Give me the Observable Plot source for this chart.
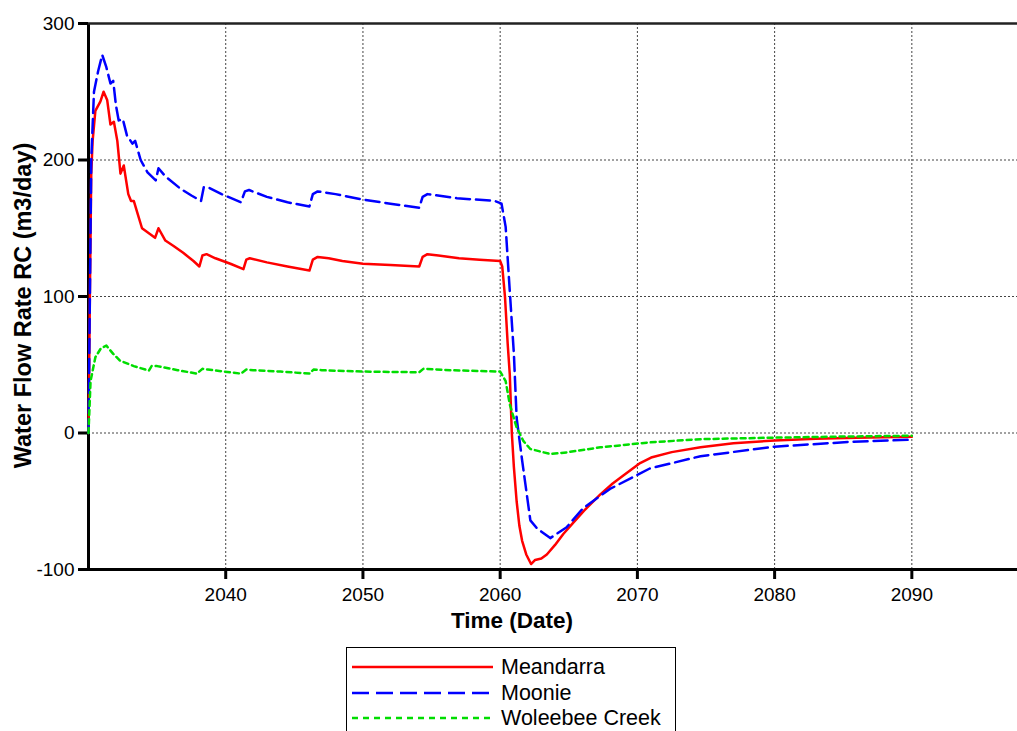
<!DOCTYPE html>
<html>
<head>
<meta charset="utf-8">
<script src="https://cdn.jsdelivr.net/npm/d3@7"></script>
<script src="https://cdn.jsdelivr.net/npm/@observablehq/plot@0.6"></script>
<style>
  html, body { margin: 0; padding: 0; background: #fff; overflow: hidden; }
  body { font-family: "Liberation Sans", Arial, sans-serif; width: 1017px; height: 731px; position: relative; }
  #chart svg { display: block; }
  #legend { position: absolute; left: 346px; top: 647px; width: 330px; height: 95px; border: 1.5px solid #000; box-sizing: border-box; background: #fff; }
  .lg-row { position: absolute; left: 5px; height: 24px; display: flex; align-items: center; }
  .lg-row span { font-size: 21.5px; color: #000; margin-left: 8px; line-height: 24px; }
</style>
</head>
<body>
<div id="chart"></div>
<div id="legend"></div>
<script>
// ---- data ----
const seriesNames = ["Meandarra", "Moonie", "Woleebee Creek"];
const seriesColors = ["#ff0000", "#0000ff", "#00dd00"];
const seriesDash = [null, "14,6", "5,4"];

const xTicks = [2040, 2050, 2060, 2070, 2080, 2090];
const yTicks = [-100, 0, 100, 200, 300];
const yGridValues = [0, 100, 200];
const xDomain = [2030, 2097.7];
const yDomain = [-100, 300];

const meandarraYear = [2030.0, 2030.1, 2030.2, 2030.3, 2030.5, 2030.87, 2031.1, 2031.36, 2031.6, 2031.85, 2032.1, 2032.33, 2032.57, 2032.9, 2033.1, 2033.3, 2033.6, 2033.9, 2034.3, 2034.85, 2035.1, 2035.6, 2036.2, 2036.9, 2037.65, 2038.08, 2038.3, 2038.6, 2039.25, 2040.34, 2041.29, 2041.5, 2041.75, 2043.0, 2044.5, 2046.1, 2046.35, 2046.7, 2047.5, 2048.5, 2050.0, 2052.0, 2054.1, 2054.35, 2054.7, 2055.5, 2057.0, 2058.5, 2060.0, 2060.15, 2060.35, 2060.55, 2060.7, 2060.85, 2061.0, 2061.2, 2061.4, 2061.6, 2061.9, 2062.25, 2062.55, 2063.0, 2063.4, 2064.0, 2064.6, 2065.3, 2066.1, 2067.3, 2068.2, 2069.0, 2070.2, 2071.0, 2072.5, 2074.6, 2077.0, 2080.0, 2083.0, 2086.0, 2090.0];
const meandarraValue = [0, 100, 190, 214, 236, 243, 250, 244, 226, 228, 214, 190, 196, 175, 170, 170, 160, 150, 147, 143, 150, 141, 137, 132, 126, 122, 130, 131, 128, 124, 120, 127, 128, 125, 122, 119, 127, 129, 128, 126, 124, 123, 122, 129, 131, 130, 128, 127, 126, 122, 100, 65, 43, 0, -25, -50, -68, -79, -89, -96, -93, -92, -89, -82, -74, -66, -57, -45, -37, -31, -22, -18, -14, -10.5, -7.5, -5.5, -4.2, -3.4, -2.7];

const moonieYear = [2030.0, 2030.1, 2030.2, 2030.4, 2030.7, 2031.0, 2031.3, 2031.6, 2031.8, 2032.0, 2032.2, 2032.5, 2032.8, 2033.2, 2033.4, 2033.8, 2034.3, 2034.9, 2035.1, 2035.6, 2036.7, 2037.5, 2038.2, 2038.4, 2038.7, 2039.7, 2041.1, 2041.4, 2041.7, 2043.0, 2044.5, 2046.1, 2046.35, 2046.7, 2048.0, 2050.0, 2052.0, 2054.1, 2054.35, 2054.7, 2056.85, 2059.6, 2060.1, 2060.4, 2060.7, 2061.0, 2061.2, 2061.6, 2062.2, 2062.7, 2063.65, 2064.85, 2066.05, 2068.0, 2070.9, 2074.6, 2080.0, 2085.5, 2090.0];
const moonieValue = [0, 100, 200, 250, 265, 277, 268, 256, 258, 240, 229, 230, 218, 212, 214, 200, 191, 185, 194, 188, 179, 174, 170, 180, 180, 175, 169, 177, 178, 173, 169, 166, 175, 177, 175, 171, 168, 165, 173, 175, 172, 170, 168, 151, 104, 58, 11, -20, -64, -70, -77, -69, -55, -41, -26, -17, -10, -6.5, -4.9];

const woleebeeYear = [2030.0, 2030.15, 2030.5, 2030.9, 2031.3, 2031.8, 2032.3, 2033.3, 2034.4, 2034.6, 2035.0, 2036.5, 2037.9, 2038.3, 2038.7, 2041.1, 2041.5, 2042.0, 2044.0, 2046.1, 2046.4, 2047.0, 2050.0, 2054.1, 2054.4, 2056.4, 2060.0, 2060.4, 2060.7, 2061.2, 2061.7, 2062.2, 2063.65, 2064.85, 2067.3, 2070.9, 2074.6, 2080.0, 2085.0, 2090.0];
const woleebeeValue = [0, 38, 55.5, 62, 64, 58, 53, 49, 45.7, 49, 49, 46, 43.5, 47, 46.5, 43.5, 46.5, 46, 45, 43.5, 46.5, 46, 45, 44.5, 47, 46, 45, 38, 21, 4, -6, -11.7, -15.4, -14.2, -10.5, -6.9, -4.5, -3.4, -2.6, -2];

// ---- build tables ----
function rows(name, years, values) {
  return years.map((t, i) => ({series: name, t, v: values[i]}));
}
const tables = [
  rows(seriesNames[0], meandarraYear, meandarraValue),
  rows(seriesNames[1], moonieYear, moonieValue),
  rows(seriesNames[2], woleebeeYear, woleebeeValue)
];

const gridStyle = {stroke: "#444", strokeOpacity: 1, strokeWidth: 1, strokeDasharray: "2,2"};

const chart = Plot.plot({
  width: 1017,
  height: 645,
  marginLeft: 88,
  marginRight: 0,
  marginTop: 23,
  marginBottom: 76,
  style: {fontFamily: "'Liberation Sans', Arial, sans-serif", fontSize: "19px", color: "#000", background: "#fff"},
  x: {domain: xDomain},
  y: {domain: yDomain},
  marks: [
    Plot.gridX(xTicks, gridStyle),
    Plot.gridY(yGridValues, gridStyle),
    Plot.axisX({ticks: xTicks, tickFormat: d => String(d), tickSize: 10, tickPadding: 8, strokeWidth: 3, label: null, fontSize: 19}),
    Plot.axisY({ticks: yTicks, tickFormat: d => String(d), tickSize: 10, tickPadding: 4, strokeWidth: 3, label: null, fontSize: 19}),
    Plot.ruleX([xDomain[0]], {stroke: "#000", strokeWidth: 3}),
    Plot.ruleY([yDomain[0]], {stroke: "#000", strokeWidth: 3}),
    Plot.ruleY([yDomain[1]], {stroke: "#222", strokeWidth: 2.5}),
    ...tables.map((tb, i) => Plot.line(tb, {
      x: "t", y: "v",
      stroke: seriesColors[i],
      strokeWidth: 2.5,
      strokeDasharray: seriesDash[i] || undefined,
      strokeLinejoin: "round"
    })),
    Plot.text(["Time (Date)"], {frameAnchor: "bottom", textAnchor: "middle", dx: -41, dy: 58, fontWeight: "bold", fontSize: 22.5}),
    Plot.text(["Water Flow Rate RC (m3/day)"], {frameAnchor: "left", textAnchor: "middle", rotate: -90, dx: -65, dy: 9, fontWeight: "bold", fontSize: 23.5})
  ]
});
document.getElementById("chart").appendChild(chart);

// ---- legend ----
const legend = document.getElementById("legend");
seriesNames.forEach((name, i) => {
  const row = document.createElement("div");
  row.className = "lg-row";
  row.style.top = (7 + i * 25.5) + "px";
  const ns = "http://www.w3.org/2000/svg";
  const svg = document.createElementNS(ns, "svg");
  svg.setAttribute("width", "141");
  svg.setAttribute("height", "10");
  const ln = document.createElementNS(ns, "line");
  ln.setAttribute("x1", "0"); ln.setAttribute("x2", "141");
  ln.setAttribute("y1", "5"); ln.setAttribute("y2", "5");
  ln.setAttribute("stroke", seriesColors[i]);
  ln.setAttribute("stroke-width", "2.5");
  if (seriesDash[i]) ln.setAttribute("stroke-dasharray", i === 1 ? "17,7" : "6,5");
  svg.appendChild(ln);
  const lab = document.createElement("span");
  lab.textContent = name;
  row.appendChild(svg);
  row.appendChild(lab);
  legend.appendChild(row);
});
</script>
</body>
</html>
